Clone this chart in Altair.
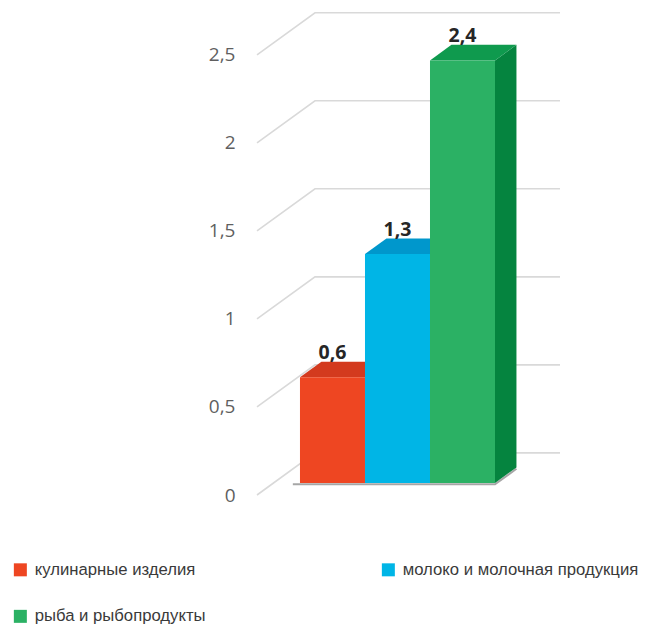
import altair as alt
import pandas as pd

# ---- data ----
categories = ["кулинарные изделия", "молоко и молочная продукция", "рыба и рыбопродукты"]
values = [0.6, 1.3, 2.4]
value_labels = ["0,6", "1,3", "2,4"]
tick_values = [0, 0.5, 1, 1.5, 2, 2.5]

# ---- styling ----
front_colors = ["#EE4622", "#00B5E6", "#2BB164"]
top_colors = ["#D33A1E", "#0097CC", "#0F9A4E"]
side_colors = ["#B8301A", "#007FAF", "#05843F"]
GRID_COLOR = "#D9D9D9"

# 3D projection constants (x in bar-width units, y in value units)
DEPTH_DX = 0.892   # full wall depth, x shift
DEPTH_DY = 0.239   # full wall depth, y shift
D_FRONT = 0.286    # depth of bar front faces
D_BACK = 0.656     # depth of bar back faces
X_MIN, X_MAX = -0.406, 4.255
Y_MIN, Y_MAX = 0.0, 2.8
PX_X, PX_Y = 65, 176

xf, yf = D_FRONT * DEPTH_DX, D_FRONT * DEPTH_DY
ddx, ddy = (D_BACK - D_FRONT) * DEPTH_DX, (D_BACK - D_FRONT) * DEPTH_DY

xs = alt.Scale(domain=[X_MIN, X_MAX], nice=False, zero=False)
ys = alt.Scale(domain=[Y_MIN, Y_MAX], nice=False, zero=False)
y_axis = alt.Axis(values=tick_values, domain=False, ticks=False, grid=False,
                  labelPadding=22, labelFontSize=19, labelFont="Open Sans",
                  labelColor="#5F5F5F",
                  labelExpr="replace(format(datum.value, '~g'), '.', ',')",
                  title=None)

# gridlines (diagonal on the side wall + horizontal on the back wall)
grid_rows = []
for t in tick_values:
    grid_rows += [
        {"t": t, "o": 0, "x": X_MIN, "y": t},
        {"t": t, "o": 1, "x": X_MIN + DEPTH_DX, "y": t + DEPTH_DY},
        {"t": t, "o": 2, "x": X_MAX, "y": t + DEPTH_DY},
    ]
grid = alt.Chart(pd.DataFrame(grid_rows)).mark_line(color=GRID_COLOR, strokeWidth=1.6).encode(
    x=alt.X("x:Q", scale=xs, axis=None),
    y=alt.Y("y:Q", scale=ys, axis=y_axis, title=None),
    detail="t:N",
    order="o:Q",
)

# floor shadow under the bars
n = len(values)
shadow_rows = [
    {"o": 0, "x": xf - 0.11, "y": yf - 0.008},
    {"o": 1, "x": n + xf, "y": yf - 0.008},
    {"o": 2, "x": n + xf + ddx, "y": yf + ddy - 0.008},
]
shadow = alt.Chart(pd.DataFrame(shadow_rows)).mark_line(color="#A6A6A6", strokeWidth=2).encode(
    x=alt.X("x:Q", scale=xs, axis=None),
    y=alt.Y("y:Q", scale=ys, axis=y_axis, title=None),
    order="o:Q",
)

# bar faces
front_rows, top_rows, side_rows, label_rows = [], [], [], []
for i, (c, v) in enumerate(zip(categories, values)):
    front_rows.append({"cat": c, "x": i + xf, "x2": i + 1 + xf, "y": yf, "y2": v + yf})
    top_rows += [
        {"cat": c, "col": top_colors[i], "y": v + yf, "x": i + xf, "x2": i + 1 + xf},
        {"cat": c, "col": top_colors[i], "y": v + yf + ddy, "x": i + xf + ddx, "x2": i + 1 + xf + ddx},
    ]
    side_rows += [
        {"cat": c, "col": side_colors[i], "x": i + 1 + xf, "y": yf, "y2": v + yf},
        {"cat": c, "col": side_colors[i], "x": i + 1 + xf + ddx, "y": yf + ddy, "y2": v + yf + ddy},
    ]
    label_rows.append({"cat": c, "x": i + 0.5 + xf, "y": v + yf + ddy, "lab": value_labels[i]})

sides = alt.Chart(pd.DataFrame(side_rows)).mark_area(orient="vertical").encode(
    x=alt.X("x:Q", scale=xs, axis=None),
    y=alt.Y("y:Q", scale=ys, axis=y_axis, title=None, stack=None),
    y2="y2:Q",
    detail="cat:N",
    fill=alt.Fill("col:N", scale=None),
)

tops = alt.Chart(pd.DataFrame(top_rows)).mark_area(orient="horizontal").encode(
    y=alt.Y("y:Q", scale=ys, axis=y_axis, title=None),
    x=alt.X("x:Q", scale=xs, axis=None, stack=None),
    x2="x2:Q",
    detail="cat:N",
    fill=alt.Fill("col:N", scale=None),
)

fronts = alt.Chart(pd.DataFrame(front_rows)).mark_rect().encode(
    x=alt.X("x:Q", scale=xs, axis=None),
    x2="x2:Q",
    y=alt.Y("y:Q", scale=ys, axis=y_axis, title=None),
    y2="y2:Q",
    color=alt.Color("cat:N", scale=alt.Scale(domain=categories, range=front_colors),
                    legend=alt.Legend(title=None, orient="none", legendX=-245, legendY=559,
                                      direction="horizontal",
                                      columns=2, columnPadding=174, rowPadding=29,
                                      symbolType="square", symbolSize=169, symbolStrokeWidth=0,
                                      labelFont="Liberation Sans", labelFontSize=16.7,
                                      labelColor="#3A3A3A", labelOffset=6, labelLimit=400)),
)

labels = alt.Chart(pd.DataFrame(label_rows)).mark_text(
    font="Open Sans", fontWeight="bold", fontSize=19.5, color="#262626", baseline="alphabetic", dy=-3
).encode(
    x=alt.X("x:Q", scale=xs, axis=None),
    y=alt.Y("y:Q", scale=ys, axis=y_axis, title=None),
    text="lab:N",
)

W = round((X_MAX - X_MIN) * PX_X)
H = round((Y_MAX - Y_MIN) * PX_Y)

chart = alt.layer(grid, shadow, sides, tops, fronts, labels).properties(
    width=W, height=H,
    background="white",
    autosize=alt.AutoSizeParams(type="none"),
    padding={"left": 257, "top": 2, "right": 645 - 257 - W, "bottom": 625 - 2 - H},
).configure_view(stroke=None)

chart.save("out.html", embed_options={"renderer": "svg", "actions": False})
